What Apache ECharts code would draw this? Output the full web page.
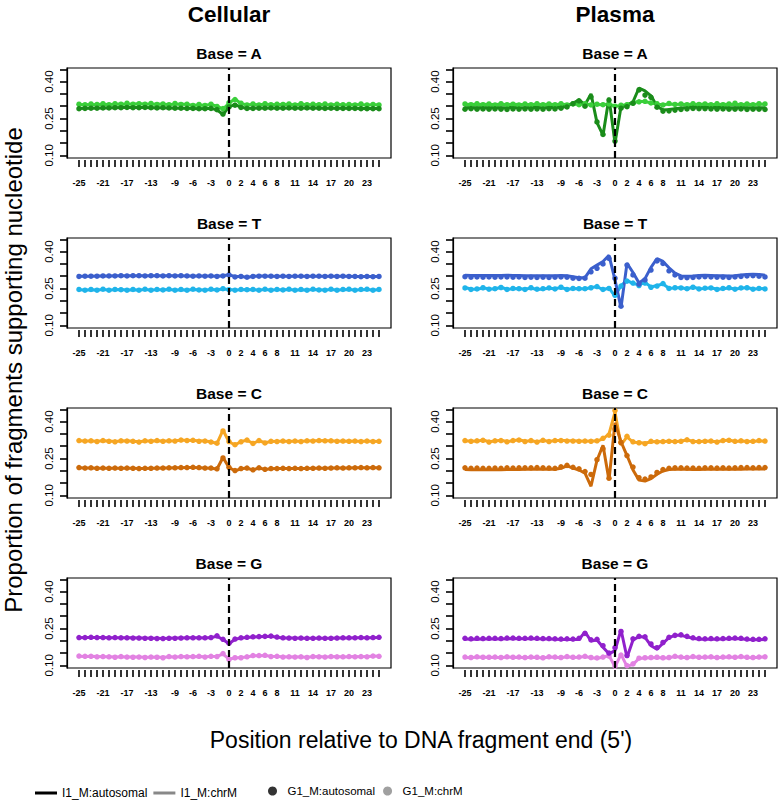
<!DOCTYPE html>
<html><head><meta charset="utf-8">
<script src="https://cdn.jsdelivr.net/npm/echarts@6/dist/echarts.min.js"></script>
<style>html,body{margin:0;padding:0;background:#fff}#c{width:778px;height:800px}</style>
</head><body><div id="c"></div>
<script>
// ---------- categories / ticks ----------
const positions = [-25,-24,-23,-22,-21,-20,-19,-18,-17,-16,-15,-14,-13,-12,-11,-10,-9,-8,-7,-6,-5,-4,-3,-2,-1,
  0,1,2,3,4,5,6,7,8,9,10,11,12,13,14,15,16,17,18,19,20,21,22,23,24,25];
const xTickLabels = [-25,-21,-17,-13,-9,-6,-3,0,2,4,6,8,11,14,17,20,23];
const yTicks = [0.10,0.15,0.20,0.25,0.30,0.35,0.40,0.45];
const yTickLabels = [0.10,0.25,0.40];
const columnTitles = ['Cellular','Plasma'];
const bases = ['A','T','C','G'];
const seriesNames = ['I1_M:autosomal','I1_M:chrM','G1_M:autosomal','G1_M:chrM'];

// ---------- Cellular ----------
const cellA_I1_auto = [0.291,0.292,0.292,0.293,0.293, 0.294,0.294,0.295,0.295,0.295, 0.295,0.295,0.294,0.294,0.294, 0.293,0.293,0.292,0.292,0.291, 0.290,0.291,0.291,0.285,0.266, 0.298,0.306,0.296,0.292,0.292, 0.293,0.293,0.293,0.293,0.293, 0.293,0.293,0.293,0.293,0.293, 0.293,0.292,0.292,0.292,0.292, 0.292,0.292,0.291,0.291,0.291, 0.291];
const cellA_I1_chrM = [0.306,0.307,0.306,0.307,0.308, 0.307,0.308,0.309,0.308,0.309, 0.310,0.309,0.308,0.309,0.308, 0.307,0.308,0.309,0.307,0.304, 0.305,0.304,0.307,0.300,0.288, 0.312,0.330,0.310,0.306,0.307, 0.306,0.308,0.307,0.306,0.308, 0.307,0.306,0.308,0.307,0.306, 0.307,0.306,0.306,0.307,0.306, 0.305,0.307,0.306,0.305,0.306, 0.306];
const cellA_G1_auto = [0.290,0.291,0.292,0.292,0.293, 0.293,0.294,0.294,0.295,0.294, 0.294,0.295,0.294,0.293,0.294, 0.293,0.292,0.292,0.291,0.291, 0.290,0.290,0.291,0.286,0.268, 0.297,0.304,0.295,0.291,0.291, 0.292,0.292,0.293,0.292,0.292, 0.293,0.292,0.292,0.293,0.292, 0.292,0.291,0.292,0.291,0.291, 0.291,0.291,0.290,0.290,0.290, 0.290];
const cellA_G1_chrM = [0.308,0.306,0.309,0.307,0.310, 0.306,0.310,0.308,0.312,0.308, 0.310,0.308,0.311,0.307,0.309, 0.306,0.311,0.307,0.308,0.303, 0.307,0.303,0.308,0.299,0.290, 0.314,0.327,0.312,0.305,0.309, 0.305,0.310,0.306,0.308,0.307, 0.309,0.305,0.310,0.306,0.308, 0.306,0.309,0.305,0.308,0.306, 0.307,0.305,0.309,0.305,0.307, 0.305];

const cellT_I1_auto = [0.300,0.300,0.300,0.301,0.301, 0.301,0.302,0.302,0.302,0.302, 0.302,0.302,0.302,0.302,0.302, 0.302,0.302,0.302,0.301,0.301, 0.301,0.301,0.301,0.300,0.302, 0.306,0.298,0.300,0.295,0.300, 0.301,0.301,0.300,0.300,0.300, 0.300,0.300,0.300,0.300,0.300, 0.300,0.300,0.300,0.300,0.300, 0.300,0.299,0.299,0.299,0.299, 0.299];
const cellT_I1_chrM = [0.245,0.244,0.245,0.244,0.246, 0.244,0.245,0.246,0.244,0.245, 0.244,0.246,0.244,0.245,0.245, 0.246,0.244,0.245,0.244,0.246, 0.245,0.244,0.246,0.245,0.248, 0.246,0.244,0.245,0.246,0.245, 0.244,0.246,0.244,0.245,0.245, 0.246,0.244,0.245,0.244,0.246, 0.245,0.244,0.246,0.244,0.245, 0.246,0.244,0.245,0.246,0.244, 0.245];
const cellT_G1_auto = [0.299,0.300,0.300,0.300,0.301, 0.301,0.301,0.302,0.301,0.302, 0.302,0.301,0.302,0.302,0.301, 0.302,0.301,0.302,0.301,0.300, 0.301,0.300,0.301,0.299,0.301, 0.305,0.297,0.299,0.296,0.299, 0.300,0.300,0.300,0.299,0.300, 0.299,0.300,0.300,0.299,0.300, 0.300,0.299,0.300,0.299,0.300, 0.299,0.299,0.298,0.299,0.298, 0.299];
const cellT_G1_chrM = [0.246,0.243,0.246,0.243,0.247, 0.243,0.246,0.245,0.243,0.246, 0.243,0.247,0.243,0.246,0.244, 0.247,0.243,0.246,0.243,0.247, 0.244,0.243,0.247,0.244,0.249, 0.245,0.243,0.246,0.245,0.246, 0.243,0.247,0.243,0.246,0.244, 0.247,0.243,0.246,0.243,0.247, 0.244,0.243,0.247,0.243,0.246, 0.247,0.243,0.246,0.247,0.243, 0.246];

const cellC_I1_auto = [0.212,0.211,0.211,0.210,0.210, 0.210,0.210,0.210,0.210,0.210, 0.209,0.209,0.210,0.210,0.211, 0.211,0.212,0.212,0.213,0.213, 0.212,0.211,0.210,0.207,0.254, 0.213,0.200,0.208,0.211,0.203, 0.212,0.205,0.208,0.209,0.209, 0.209,0.209,0.209,0.209,0.210, 0.210,0.210,0.211,0.211,0.211, 0.211,0.212,0.212,0.212,0.212, 0.212];
const cellC_I1_chrM = [0.322,0.321,0.321,0.320,0.322, 0.321,0.319,0.321,0.322,0.320, 0.318,0.321,0.321,0.322,0.321, 0.321,0.322,0.324,0.324,0.323, 0.322,0.321,0.318,0.311,0.365, 0.318,0.305,0.319,0.324,0.312, 0.322,0.314,0.319,0.320,0.320, 0.320,0.320,0.320,0.321,0.322, 0.322,0.323,0.321,0.321,0.320, 0.321,0.320,0.320,0.320,0.320, 0.319];
const cellC_G1_auto = [0.213,0.211,0.212,0.210,0.211, 0.210,0.211,0.210,0.211,0.210, 0.209,0.210,0.210,0.211,0.211, 0.212,0.212,0.213,0.213,0.214, 0.213,0.211,0.211,0.208,0.252, 0.214,0.201,0.209,0.211,0.204, 0.212,0.206,0.209,0.209,0.210, 0.209,0.210,0.209,0.210,0.210, 0.211,0.210,0.211,0.212,0.211, 0.212,0.212,0.213,0.212,0.213, 0.212];
const cellC_G1_chrM = [0.323,0.321,0.322,0.319,0.323, 0.320,0.318,0.322,0.321,0.320, 0.317,0.322,0.320,0.323,0.320, 0.322,0.321,0.325,0.323,0.324, 0.320,0.321,0.317,0.312,0.362, 0.319,0.306,0.318,0.325,0.311, 0.323,0.313,0.320,0.319,0.321, 0.319,0.321,0.319,0.322,0.321, 0.323,0.322,0.322,0.320,0.321, 0.320,0.321,0.319,0.321,0.319, 0.320];

const cellG_I1_auto = [0.212,0.213,0.213,0.213,0.213, 0.212,0.212,0.212,0.212,0.212, 0.211,0.211,0.210,0.210,0.209, 0.210,0.211,0.211,0.212,0.212, 0.212,0.211,0.213,0.218,0.205, 0.188,0.206,0.211,0.213,0.215, 0.216,0.217,0.218,0.214,0.211, 0.211,0.211,0.210,0.210,0.210, 0.210,0.210,0.210,0.211,0.211, 0.211,0.212,0.212,0.212,0.212, 0.213];
const cellG_I1_chrM = [0.137,0.136,0.137,0.136,0.135, 0.135,0.134,0.135,0.134,0.134, 0.134,0.133,0.133,0.134,0.132, 0.135,0.134,0.135,0.136,0.135, 0.136,0.135,0.136,0.137,0.146, 0.126,0.130,0.132,0.134,0.139, 0.139,0.140,0.137,0.136,0.135, 0.134,0.135,0.134,0.133,0.135, 0.136,0.134,0.135,0.136,0.134, 0.135,0.136,0.135,0.136,0.137, 0.138];
const cellG_G1_auto = [0.213,0.213,0.214,0.213,0.213, 0.212,0.213,0.212,0.212,0.211, 0.211,0.210,0.210,0.209,0.209, 0.210,0.210,0.211,0.212,0.212, 0.212,0.212,0.213,0.220,0.206, 0.190,0.207,0.212,0.214,0.216, 0.217,0.218,0.219,0.215,0.212, 0.211,0.210,0.211,0.210,0.210, 0.211,0.210,0.210,0.211,0.212, 0.212,0.212,0.213,0.212,0.213, 0.214];
const cellG_G1_chrM = [0.138,0.137,0.137,0.135,0.136, 0.135,0.133,0.136,0.134,0.133, 0.134,0.132,0.134,0.133,0.131, 0.136,0.134,0.136,0.135,0.136, 0.137,0.134,0.137,0.136,0.148, 0.124,0.131,0.131,0.135,0.140, 0.140,0.141,0.136,0.137,0.134, 0.135,0.134,0.135,0.132,0.136, 0.135,0.134,0.136,0.135,0.135, 0.136,0.135,0.136,0.135,0.138, 0.137];

// ---------- Plasma ----------
const plasA_I1_auto = [0.294,0.295,0.294,0.295,0.294, 0.295,0.294,0.294,0.295,0.294, 0.294,0.295,0.295,0.294,0.295, 0.295,0.296,0.300,0.312,0.326, 0.306,0.350,0.233,0.182,0.334, 0.150,0.298,0.302,0.318,0.374, 0.362,0.342,0.300,0.285,0.287, 0.290,0.293,0.295,0.296,0.297, 0.296,0.295,0.295,0.295,0.294, 0.294,0.295,0.294,0.294,0.294, 0.294];
const plasA_I1_chrM = [0.307,0.308,0.307,0.308,0.307, 0.307,0.308,0.307,0.308,0.307, 0.307,0.307,0.308,0.307,0.308, 0.307,0.308,0.307,0.308,0.308, 0.308,0.307,0.306,0.307,0.308, 0.301,0.302,0.307,0.314,0.320, 0.318,0.314,0.308,0.306,0.309, 0.308,0.307,0.308,0.307,0.308, 0.308,0.307,0.307,0.308,0.307, 0.308,0.307,0.308,0.307,0.308, 0.308];
const plasA_G1_auto = [0.288,0.290,0.288,0.289,0.288, 0.289,0.288,0.287,0.289,0.288, 0.289,0.288,0.289,0.288,0.290, 0.289,0.292,0.297,0.310,0.322, 0.300,0.338,0.236,0.185,0.325, 0.158,0.292,0.298,0.312,0.366, 0.345,0.336,0.296,0.280,0.281, 0.284,0.287,0.289,0.291,0.290, 0.290,0.289,0.288,0.289,0.288, 0.288,0.289,0.287,0.288,0.288, 0.287];
const plasA_G1_chrM = [0.309,0.306,0.310,0.306,0.309, 0.305,0.310,0.306,0.308,0.305, 0.309,0.306,0.310,0.306,0.309, 0.306,0.310,0.305,0.309,0.306, 0.310,0.305,0.308,0.306,0.309, 0.300,0.304,0.306,0.312,0.318, 0.320,0.313,0.310,0.305,0.311, 0.307,0.309,0.306,0.310,0.307, 0.309,0.306,0.310,0.306,0.309, 0.312,0.306,0.309,0.306,0.310, 0.309];

const plasT_I1_auto = [0.304,0.303,0.303,0.303,0.303, 0.303,0.303,0.304,0.303,0.303, 0.302,0.302,0.302,0.302,0.302, 0.302,0.303,0.302,0.298,0.294, 0.294,0.330,0.345,0.360,0.385, 0.285,0.172,0.352,0.315,0.272, 0.290,0.336,0.372,0.360,0.334, 0.312,0.301,0.300,0.301,0.303, 0.304,0.303,0.302,0.302,0.301, 0.302,0.305,0.307,0.308,0.307, 0.304];
const plasT_I1_chrM = [0.254,0.248,0.247,0.252,0.249, 0.248,0.255,0.247,0.249,0.250, 0.247,0.252,0.246,0.248,0.251, 0.249,0.254,0.247,0.249,0.250, 0.248,0.254,0.257,0.245,0.252, 0.218,0.262,0.283,0.270,0.265, 0.275,0.256,0.262,0.268,0.251, 0.252,0.254,0.248,0.256,0.249, 0.250,0.253,0.247,0.249,0.252, 0.248,0.251,0.254,0.248,0.249, 0.250];
const plasT_G1_auto = [0.298,0.296,0.297,0.296,0.297, 0.296,0.297,0.297,0.296,0.297, 0.295,0.296,0.295,0.296,0.295, 0.296,0.297,0.296,0.292,0.291, 0.292,0.318,0.332,0.350,0.372, 0.292,0.178,0.345,0.305,0.268, 0.285,0.325,0.362,0.352,0.322, 0.305,0.295,0.294,0.295,0.297, 0.298,0.297,0.296,0.296,0.295, 0.297,0.299,0.301,0.302,0.300, 0.297];
const plasT_G1_chrM = [0.252,0.246,0.248,0.253,0.247, 0.249,0.254,0.246,0.250,0.249, 0.246,0.253,0.247,0.249,0.252, 0.248,0.255,0.246,0.250,0.249, 0.249,0.253,0.258,0.246,0.250, 0.222,0.260,0.280,0.272,0.262, 0.272,0.255,0.260,0.270,0.250, 0.253,0.252,0.249,0.255,0.248, 0.251,0.252,0.246,0.250,0.253, 0.247,0.252,0.253,0.247,0.250, 0.248];

const plasC_I1_auto = [0.205,0.204,0.204,0.204,0.204, 0.204,0.204,0.205,0.205,0.205, 0.206,0.206,0.206,0.206,0.206, 0.206,0.210,0.220,0.211,0.203, 0.190,0.137,0.243,0.304,0.162, 0.395,0.318,0.262,0.203,0.162, 0.158,0.168,0.186,0.199,0.205, 0.206,0.206,0.206,0.205,0.205, 0.206,0.206,0.206,0.206,0.206, 0.206,0.206,0.207,0.207,0.207, 0.207];
const plasC_I1_chrM = [0.321,0.321,0.320,0.325,0.318, 0.321,0.324,0.319,0.322,0.326, 0.320,0.322,0.318,0.323,0.320, 0.322,0.324,0.322,0.322,0.321, 0.320,0.321,0.321,0.330,0.350, 0.438,0.305,0.338,0.316,0.315, 0.312,0.318,0.319,0.318,0.321, 0.318,0.321,0.325,0.320,0.318, 0.321,0.320,0.318,0.322,0.325, 0.319,0.321,0.320,0.319,0.322, 0.320];
const plasC_G1_auto = [0.212,0.210,0.211,0.210,0.210, 0.211,0.210,0.212,0.211,0.212, 0.212,0.212,0.213,0.212,0.211, 0.210,0.216,0.222,0.214,0.208, 0.197,0.185,0.245,0.290,0.170, 0.370,0.315,0.262,0.215,0.172, 0.166,0.175,0.193,0.205,0.210, 0.212,0.212,0.211,0.211,0.210, 0.212,0.212,0.211,0.212,0.211, 0.212,0.213,0.213,0.212,0.213, 0.213];
const plasC_G1_chrM = [0.323,0.320,0.322,0.324,0.317, 0.322,0.323,0.318,0.323,0.325, 0.319,0.323,0.317,0.324,0.319, 0.323,0.323,0.321,0.321,0.320, 0.321,0.320,0.322,0.332,0.345, 0.445,0.315,0.340,0.318,0.314, 0.310,0.320,0.318,0.319,0.320, 0.319,0.320,0.326,0.319,0.319, 0.320,0.321,0.317,0.323,0.324, 0.320,0.322,0.319,0.320,0.323, 0.321];

const plasG_I1_auto = [0.207,0.206,0.206,0.207,0.207, 0.207,0.207,0.208,0.209,0.208, 0.208,0.208,0.208,0.207,0.207, 0.206,0.205,0.205,0.205,0.205, 0.236,0.199,0.203,0.174,0.147, 0.160,0.245,0.132,0.203,0.217, 0.214,0.180,0.166,0.190,0.213, 0.222,0.222,0.216,0.210,0.206, 0.206,0.206,0.206,0.207,0.208, 0.209,0.208,0.205,0.204,0.204, 0.206];
const plasG_I1_chrM = [0.132,0.131,0.134,0.133,0.132, 0.133,0.131,0.134,0.132,0.133, 0.131,0.133,0.132,0.130,0.134, 0.133,0.131,0.135,0.132,0.133, 0.136,0.131,0.129,0.133,0.140, 0.094,0.145,0.096,0.104,0.128, 0.130,0.131,0.132,0.130,0.131, 0.136,0.133,0.131,0.135,0.132, 0.133,0.134,0.131,0.133,0.134, 0.132,0.135,0.132,0.131,0.133, 0.134];
const plasG_G1_auto = [0.210,0.208,0.210,0.209,0.210, 0.210,0.209,0.211,0.211,0.210, 0.210,0.211,0.210,0.209,0.209, 0.208,0.207,0.208,0.207,0.210, 0.230,0.204,0.206,0.180,0.150, 0.172,0.238,0.140,0.208,0.218, 0.216,0.187,0.172,0.193,0.214, 0.222,0.224,0.218,0.212,0.209, 0.208,0.209,0.208,0.209,0.210, 0.211,0.210,0.207,0.206,0.206, 0.208];
const plasG_G1_chrM = [0.134,0.132,0.135,0.133,0.133, 0.134,0.132,0.135,0.133,0.134, 0.132,0.134,0.133,0.131,0.135, 0.134,0.132,0.136,0.133,0.134, 0.137,0.132,0.130,0.134,0.138, 0.097,0.142,0.099,0.106,0.129, 0.131,0.132,0.133,0.131,0.132, 0.137,0.134,0.132,0.136,0.133, 0.134,0.135,0.132,0.134,0.135, 0.133,0.136,0.133,0.132,0.134, 0.135];

// ---------- styling ----------
const baseColors = {
  A: {auto: '#1a8c1a', chrM: '#3acf3a'},
  T: {auto: '#3b5fcc', chrM: '#1fb4ea'},
  C: {auto: '#cc6a0a', chrM: '#f6a623'},
  G: {auto: '#9020cc', chrM: '#e282e2'}
};
const FONT = '"Liberation Sans", Arial, Helvetica, sans-serif';
const colLeft = [67, 453];
const rowTop = [68, 238, 408, 578];
const boxW = 324, boxH = 90;

const panels = [
  {col:0,row:0,base:'A', I1a:cellA_I1_auto, I1m:cellA_I1_chrM, G1a:cellA_G1_auto, G1m:cellA_G1_chrM},
  {col:0,row:1,base:'T', I1a:cellT_I1_auto, I1m:cellT_I1_chrM, G1a:cellT_G1_auto, G1m:cellT_G1_chrM},
  {col:0,row:2,base:'C', I1a:cellC_I1_auto, I1m:cellC_I1_chrM, G1a:cellC_G1_auto, G1m:cellC_G1_chrM},
  {col:0,row:3,base:'G', I1a:cellG_I1_auto, I1m:cellG_I1_chrM, G1a:cellG_G1_auto, G1m:cellG_G1_chrM},
  {col:1,row:0,base:'A', I1a:plasA_I1_auto, I1m:plasA_I1_chrM, G1a:plasA_G1_auto, G1m:plasA_G1_chrM},
  {col:1,row:1,base:'T', I1a:plasT_I1_auto, I1m:plasT_I1_chrM, G1a:plasT_G1_auto, G1m:plasT_G1_chrM},
  {col:1,row:2,base:'C', I1a:plasC_I1_auto, I1m:plasC_I1_chrM, G1a:plasC_G1_auto, G1m:plasC_G1_chrM},
  {col:1,row:3,base:'G', I1a:plasG_I1_auto, I1m:plasG_I1_chrM, G1a:plasG_G1_auto, G1m:plasG_G1_chrM}
];

const pairs = arr => positions.map((p, k) => [p, arr[k]]);

const grid = [], xAxis = [], yAxis = [], series = [], graphic = [];
panels.forEach((pn, i) => {
  grid.push({left: colLeft[pn.col], top: rowTop[pn.row], width: boxW, height: boxH,
    show: true, borderColor: '#000', borderWidth: 1.2, backgroundColor: 'transparent'});
  xAxis.push({type: 'value', gridIndex: i, min: -27, max: 27, position: 'bottom', offset: 2,
    axisLine: {show: false, onZero: false},
    axisTick: {show: true, customValues: positions, length: 7, lineStyle: {color: '#000', width: 1.6}},
    axisLabel: {customValues: xTickLabels, fontSize: 9, fontWeight: 'bold', color: '#000', margin: 18, fontFamily: FONT},
    splitLine: {show: false}});
  yAxis.push({type: 'value', gridIndex: i, min: 0.0893, max: 0.4553, position: 'left',
    axisLine: {show: true, onZero: false, lineStyle: {color: '#000', width: 1.2}},
    axisTick: {show: true, customValues: yTicks, length: 7, lineStyle: {color: '#000', width: 1.6}},
    axisLabel: {customValues: yTickLabels, rotate: 90, fontSize: 11.5, color: '#000', margin: 12, fontFamily: FONT,
      formatter: v => v.toFixed(2)},
    splitLine: {show: false}});
  const c = baseColors[pn.base];
  series.push({type: 'line', name: columnTitles[pn.col] + ' ' + pn.base + ' ' + seriesNames[1], xAxisIndex: i, yAxisIndex: i,
    data: pairs(pn.I1m), showSymbol: false, symbol: 'none', lineStyle: {color: c.chrM, width: 3}, itemStyle: {color: c.chrM}, z: 2, animation: false});
  series.push({type: 'line', name: columnTitles[pn.col] + ' ' + pn.base + ' ' + seriesNames[0], xAxisIndex: i, yAxisIndex: i,
    data: pairs(pn.I1a), showSymbol: false, symbol: 'none', lineStyle: {color: c.auto, width: 3}, itemStyle: {color: c.auto}, z: 3, animation: false});
  series.push({type: 'scatter', name: columnTitles[pn.col] + ' ' + pn.base + ' ' + seriesNames[3], xAxisIndex: i, yAxisIndex: i,
    data: pairs(pn.G1m), symbol: 'circle', symbolSize: 5.5, itemStyle: {color: c.chrM, opacity: 1}, z: 4, animation: false});
  series.push({type: 'scatter', name: columnTitles[pn.col] + ' ' + pn.base + ' ' + seriesNames[2], xAxisIndex: i, yAxisIndex: i,
    data: pairs(pn.G1a), symbol: 'circle', symbolSize: 5.5, itemStyle: {color: c.auto, opacity: 1}, z: 5, animation: false,
    markLine: {silent: true, symbol: ['none','none'], label: {show: false}, animation: false, z: 10,
      lineStyle: {color: '#000', type: [7, 4], width: 2.2, opacity: 1}, emphasis: {disabled: true}, data: [{xAxis: 0}]}});
  graphic.push({type: 'text', x: colLeft[pn.col] + boxW / 2, y: rowTop[pn.row] - 15,
    style: {text: 'Base = ' + pn.base, align: 'center', verticalAlign: 'middle', textAlign: 'center', textVerticalAlign: 'middle',
      font: 'bold 15.5px ' + FONT, fill: '#000'}});
});

// legend dummy series
series.push({type: 'line', name: seriesNames[0], xAxisIndex: 0, yAxisIndex: 0, data: [], itemStyle: {color: '#000'}, lineStyle: {color: '#000'}});
series.push({type: 'line', name: seriesNames[1], xAxisIndex: 0, yAxisIndex: 0, data: [], itemStyle: {color: '#888'}, lineStyle: {color: '#888'}});
series.push({type: 'scatter', name: seriesNames[2], xAxisIndex: 0, yAxisIndex: 0, data: [], itemStyle: {color: '#000'}});
series.push({type: 'scatter', name: seriesNames[3], xAxisIndex: 0, yAxisIndex: 0, data: [], itemStyle: {color: '#888'}});

columnTitles.forEach((t, k) => {
  graphic.push({type: 'text', x: colLeft[k] + boxW / 2, y: 14,
    style: {text: t, align: 'center', verticalAlign: 'middle', textAlign: 'center', textVerticalAlign: 'middle',
      font: 'bold 22.5px ' + FONT, fill: '#000'}});
});
graphic.push({type: 'text', x: 421, y: 740,
  style: {text: "Position relative to DNA fragment end (5')", align: 'center', verticalAlign: 'middle', textAlign: 'center', textVerticalAlign: 'middle',
    font: '23px ' + FONT, fill: '#000'}});
graphic.push({type: 'text', x: 13, y: 370, rotation: Math.PI / 2,
  style: {text: 'Proportion of fragments supporting nucleotide', align: 'center', verticalAlign: 'middle', textAlign: 'center', textVerticalAlign: 'middle',
    font: '24px ' + FONT, fill: '#000'}});

const chart = echarts.init(document.getElementById('c'), null, {renderer: 'svg'});
chart.setOption({
  animation: false,
  backgroundColor: '#fff',
  grid, xAxis, yAxis, series, graphic,
  legend: [
    {left: 30, top: 782, icon: 'rect', itemWidth: 22, itemHeight: 3, itemGap: 6, selectedMode: false,
      data: [seriesNames[0], seriesNames[1]], textStyle: {fontSize: 12, color: '#000', fontFamily: FONT}},
    {left: 263, top: 780, icon: 'circle', itemWidth: 20, itemHeight: 9, itemGap: 8, selectedMode: false,
      data: [seriesNames[2], seriesNames[3]], textStyle: {fontSize: 11.5, color: '#000', fontFamily: FONT}}
  ]
});
</script>
</body></html>
